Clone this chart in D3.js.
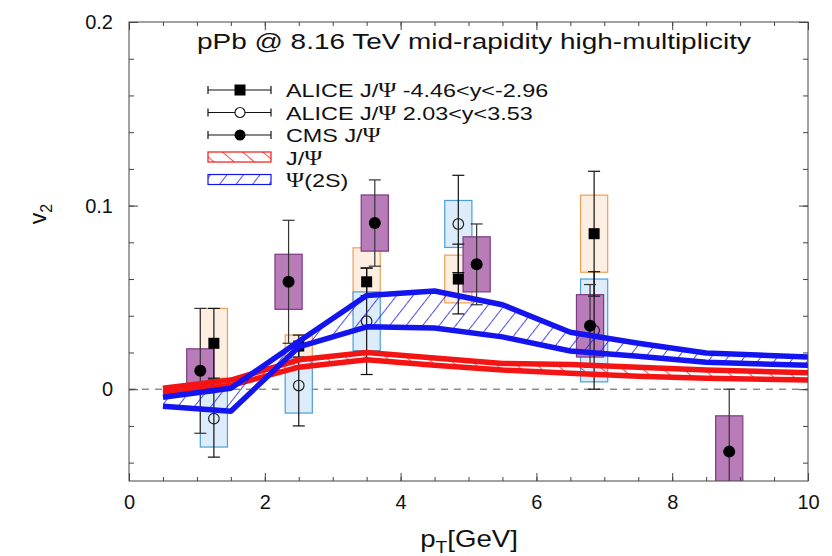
<!DOCTYPE html>
<html>
<head>
<meta charset="utf-8">
<script src="https://cdn.jsdelivr.net/npm/d3@7"></script>
<style>
  html, body { margin: 0; padding: 0; background: #fff; }
  svg { display: block; font-family: "Liberation Sans", Arial, sans-serif; }
</style>
</head>
<body>
<svg id="chart" width="832" height="556"></svg>
<script>
// ---- data ----
// model bands (pT nodes, lower / upper edges)
const bandPt = [0.5, 1.5, 2.5, 3.5, 4.5, 5.5, 6.5, 7.5, 8.5, 10];
const jpsiUpper = [0.0005, 0.005, 0.016, 0.020, 0.017, 0.014, 0.0135, 0.012, 0.0105, 0.009];
const jpsiLower = [-0.002, 0.002, 0.012, 0.016, 0.013, 0.0104, 0.0087, 0.007, 0.006, 0.005];
const psiUpper = [-0.0044, 0.0005, 0.026, 0.051, 0.0535, 0.046, 0.031, 0.025, 0.0197, 0.0175];
const psiLower = [-0.0093, -0.012, 0.023, 0.034, 0.0333, 0.0285, 0.0208, 0.018, 0.0147, 0.013];

// ALICE J/psi backward (-4.46<y<-2.96), filled squares
const aliceBwPt = [1.25, 2.5, 3.5, 4.85, 6.85];
const aliceBwV2 = [0.025, 0.0235, 0.0585, 0.060, 0.0847];
const aliceBwStat = [0.019, 0.006, 0.0075, 0.019, 0.034];
const aliceBwSys = [0.019, 0.006, 0.0185, 0.013, 0.021];

// ALICE J/psi forward (2.03<y<3.53), open circles
const aliceFwPt = [1.25, 2.5, 3.5, 4.85, 6.85];
const aliceFwV2 = [-0.016, 0.002, 0.037, 0.090, 0.032];
const aliceFwStat = [0.021, 0.022, 0.029, 0.0265, 0.032];
const aliceFwSys = [0.0155, 0.015, 0.016, 0.0128, 0.028];

// CMS J/psi, filled circles
const cmsPt = [1.05, 2.35, 3.62, 5.12, 6.79, 8.84];
const cmsV2 = [0.010, 0.0585, 0.0905, 0.068, 0.0345, -0.034];
const cmsStat = [0.034, 0.0335, 0.0235, 0.022, 0.0225, 0.034];
const cmsSys = [0.012, 0.015, 0.0153, 0.015, 0.017, 0.0195];

const xMajor = [0, 2, 4, 6, 8, 10];
const yMajor = [0, 0.1, 0.2];

// ---- setup ----
const svg = d3.select("#chart");
const mLeft = 129, mRight = 808, mTop = 22, mBottom = 481;
const x = d3.scaleLinear().domain([0, 10]).range([mLeft, mRight]);
const y = d3.scaleLinear().domain([-0.05, 0.2]).range([mBottom, mTop]);
const boxHalf = 0.2;

const BLUE = "#1414f0", RED = "#f41414";

const defs = svg.append("defs");
defs.append("clipPath").attr("id", "plotClip")
  .append("rect").attr("x", mLeft).attr("y", mTop).attr("width", mRight - mLeft).attr("height", mBottom - mTop);

function hatch(id, color, angle, gap) {
  const p = defs.append("pattern").attr("id", id)
    .attr("patternUnits", "userSpaceOnUse")
    .attr("width", gap).attr("height", gap)
    .attr("patternTransform", `rotate(${angle})`);
  p.append("line").attr("x1", 0).attr("y1", 0).attr("x2", 0).attr("y2", gap)
    .attr("stroke", color).attr("stroke-width", 1.5);
}
hatch("hatchBlue", BLUE, 38, 13);
hatch("hatchRed", RED, -50, 13);

const plot = svg.append("g").attr("clip-path", "url(#plotClip)");

// zero line
plot.append("line")
  .attr("x1", mLeft).attr("x2", mRight).attr("y1", y(0)).attr("y2", y(0))
  .attr("stroke", "#555").attr("stroke-width", 1).attr("stroke-dasharray", "7,6");

// ---- systematic boxes ----
function sysBoxes(pts, vals, sys, fill, stroke) {
  plot.append("g").selectAll("rect")
    .data(pts.map((p, i) => ({ p, v: vals[i], s: sys[i] })))
    .join("rect")
    .attr("x", d => x(d.p - boxHalf))
    .attr("width", d => x(d.p + boxHalf) - x(d.p - boxHalf))
    .attr("y", d => y(d.v + d.s))
    .attr("height", d => y(d.v - d.s) - y(d.v + d.s))
    .attr("fill", fill).attr("stroke", stroke).attr("stroke-width", 1.2);
}
sysBoxes(aliceBwPt, aliceBwV2, aliceBwSys, "#fdeee2", "#eda054");
sysBoxes(aliceFwPt, aliceFwV2, aliceFwSys, "#dcecfb", "#4b9fd6");
sysBoxes(cmsPt, cmsV2, cmsSys, "#b87cb8", "#7d3a84");

// ---- error bars ----
function errBars(pts, vals, stat, color) {
  const g = plot.append("g").attr("stroke", color).attr("stroke-width", 1.2);
  pts.forEach((p, i) => {
    const cx = x(p), y1 = y(vals[i] + stat[i]), y2 = y(vals[i] - stat[i]);
    g.append("line").attr("x1", cx).attr("x2", cx).attr("y1", y1).attr("y2", y2);
    g.append("line").attr("x1", cx - 6).attr("x2", cx + 6).attr("y1", y1).attr("y2", y1);
    g.append("line").attr("x1", cx - 6).attr("x2", cx + 6).attr("y1", y2).attr("y2", y2);
  });
}
errBars(aliceBwPt, aliceBwV2, aliceBwStat, "#111");
errBars(aliceFwPt, aliceFwV2, aliceFwStat, "#111");
errBars(cmsPt, cmsV2, cmsStat, "#333");

// ---- markers ----
plot.append("g").selectAll("rect")
  .data(aliceBwPt.map((p, i) => [p, aliceBwV2[i]]))
  .join("rect")
  .attr("x", d => x(d[0]) - 5.5).attr("y", d => y(d[1]) - 5.5)
  .attr("width", 11).attr("height", 11).attr("fill", "#000");
plot.append("g").selectAll("circle")
  .data(aliceFwPt.map((p, i) => [p, aliceFwV2[i]]))
  .join("circle")
  .attr("cx", d => x(d[0])).attr("cy", d => y(d[1])).attr("r", 5.3)
  .attr("fill", "none").attr("stroke", "#222").attr("stroke-width", 1.2);
plot.append("g").selectAll("circle")
  .data(cmsPt.map((p, i) => [p, cmsV2[i]]))
  .join("circle")
  .attr("cx", d => x(d[0])).attr("cy", d => y(d[1])).attr("r", 6)
  .attr("fill", "#000");

// ---- model bands ----
function band(upper, lower, color, pattern) {
  const pts = bandPt.map((p, i) => ({ p, u: upper[i], l: lower[i] }));
  const area = d3.area().x(d => x(d.p)).y0(d => y(d.l)).y1(d => y(d.u));
  const line = d3.line().x(d => x(d.p));
  plot.append("path").datum(pts).attr("d", area).attr("fill", `url(#${pattern})`);
  plot.append("path").datum(pts).attr("d", line.y(d => y(d.u)))
    .attr("fill", "none").attr("stroke", color).attr("stroke-width", 5.5).attr("stroke-linejoin", "round");
  plot.append("path").datum(pts).attr("d", line.y(d => y(d.l)))
    .attr("fill", "none").attr("stroke", color).attr("stroke-width", 5.5).attr("stroke-linejoin", "round");
}
band(jpsiUpper, jpsiLower, RED, "hatchRed");
band(psiUpper, psiLower, BLUE, "hatchBlue");

// ---- frame and axes ----
svg.append("rect").attr("x", mLeft).attr("y", mTop).attr("width", mRight - mLeft).attr("height", mBottom - mTop)
  .attr("fill", "none").attr("stroke", "#444").attr("stroke-width", 1);

const xMinor = d3.range(0, 10.01, 0.5);
const yMinor = d3.range(-0.04, 0.2001, 0.02);

function styleAxis(g) {
  g.select(".domain").remove();
  g.selectAll(".tick line").attr("stroke", "#444");
  g.selectAll(".tick text").attr("fill", "#111").style("font-size", "20px")
    .style("font-family", "Liberation Sans, Arial, sans-serif");
}
// bottom
svg.append("g").attr("transform", `translate(0,${mBottom})`)
  .call(d3.axisBottom(x).tickValues(xMinor).tickSize(-4).tickFormat("")).call(styleAxis);
svg.append("g").attr("transform", `translate(0,${mBottom})`)
  .call(d3.axisBottom(x).tickValues(xMajor).tickSize(-8).tickPadding(14).tickFormat(d3.format("d"))).call(styleAxis);
// top
svg.append("g").attr("transform", `translate(0,${mTop})`)
  .call(d3.axisTop(x).tickValues(xMinor).tickSize(-4).tickFormat("")).call(styleAxis);
svg.append("g").attr("transform", `translate(0,${mTop})`)
  .call(d3.axisTop(x).tickValues(xMajor).tickSize(-8).tickFormat("")).call(styleAxis);
// left
svg.append("g").attr("transform", `translate(${mLeft},0)`)
  .call(d3.axisLeft(y).tickValues(yMinor).tickSize(-5).tickFormat("")).call(styleAxis);
svg.append("g").attr("transform", `translate(${mLeft},0)`)
  .call(d3.axisLeft(y).tickValues(yMajor).tickSize(-9).tickPadding(16).tickFormat(d => d === 0 ? "0" : d3.format(".1f")(d))).call(styleAxis);
// right
svg.append("g").attr("transform", `translate(${mRight},0)`)
  .call(d3.axisRight(y).tickValues(yMinor).tickSize(-5).tickFormat("")).call(styleAxis);
svg.append("g").attr("transform", `translate(${mRight},0)`)
  .call(d3.axisRight(y).tickValues(yMajor).tickSize(-9).tickFormat("")).call(styleAxis);

// axis titles (the source font is set wider, hence the x stretch)
const xt = svg.append("g").attr("transform", "translate(469,547) scale(1.2,1)")
  .append("text").attr("text-anchor", "middle")
  .style("font-size", "23px").attr("fill", "#111");
xt.append("tspan").text("p");
xt.append("tspan").attr("dy", 6).style("font-size", "16px").text("T");
xt.append("tspan").attr("dy", -6).text("[GeV]");

const yt = svg.append("text").attr("transform", "translate(46,214) rotate(-90)").attr("text-anchor", "middle")
  .style("font-size", "23px").attr("fill", "#111");
yt.append("tspan").text("v");
yt.append("tspan").attr("dy", 6).style("font-size", "16px").text("2");

// title
svg.append("g").attr("transform", "translate(474,49) scale(1.27,1)")
  .append("text").attr("text-anchor", "middle")
  .style("font-size", "22px").attr("fill", "#111")
  .text("pPb @ 8.16 TeV mid-rapidity high-multiplicity");

// ---- legend ----
const legendRows = [
  { label: ["ALICE J/", "Ψ", " -4.46<y<-2.96"], kind: "square" },
  { label: ["ALICE J/", "Ψ", " 2.03<y<3.53"], kind: "open" },
  { label: ["CMS J/", "Ψ", ""], kind: "dot" },
  { label: ["J/", "Ψ", ""], kind: "red" },
  { label: ["", "Ψ", "(2S)"], kind: "blue" }
];
const lx0 = 208, lx1 = 271, lmid = 240, ltext = 286;
const lg = svg.append("g");
legendRows.forEach((r, i) => {
  const cy = 90 + i * 22.5;
  const g = lg.append("g");
  if (r.kind === "red" || r.kind === "blue") {
    const c = r.kind === "red" ? RED : BLUE;
    g.append("rect").attr("x", lx0).attr("y", cy - 5.5).attr("width", lx1 - lx0).attr("height", 10)
      .attr("fill", `url(#${r.kind === "red" ? "hatchRed" : "hatchBlue"})`)
      .attr("stroke", c).attr("stroke-width", 1.2);
  } else {
    g.append("line").attr("x1", lx0).attr("x2", lx1).attr("y1", cy).attr("y2", cy).attr("stroke", "#111").attr("stroke-width", 1.2);
    [lx0, lx1].forEach(xx => g.append("line").attr("x1", xx).attr("x2", xx).attr("y1", cy - 4).attr("y2", cy + 4)
      .attr("stroke", "#111").attr("stroke-width", 1.2));
    if (r.kind === "square") g.append("rect").attr("x", lmid - 5.5).attr("y", cy - 5.5).attr("width", 11).attr("height", 11).attr("fill", "#000");
    if (r.kind === "open") g.append("circle").attr("cx", lmid).attr("cy", cy).attr("r", 5).attr("fill", "#fff").attr("stroke", "#222").attr("stroke-width", 1.2);
    if (r.kind === "dot") g.append("circle").attr("cx", lmid).attr("cy", cy).attr("r", 5.5).attr("fill", "#000");
  }
  const t = g.append("g").attr("transform", `translate(${ltext},${cy + 7}) scale(1.23,1)`)
    .append("text").style("font-size", "19px").attr("fill", "#111");
  t.append("tspan").text(r.label[0]);
  t.append("tspan").style("font-family", "Liberation Serif, serif").style("font-size", "20px").text(r.label[1]);
  t.append("tspan").text(r.label[2]);
});
</script>
</body>
</html>
